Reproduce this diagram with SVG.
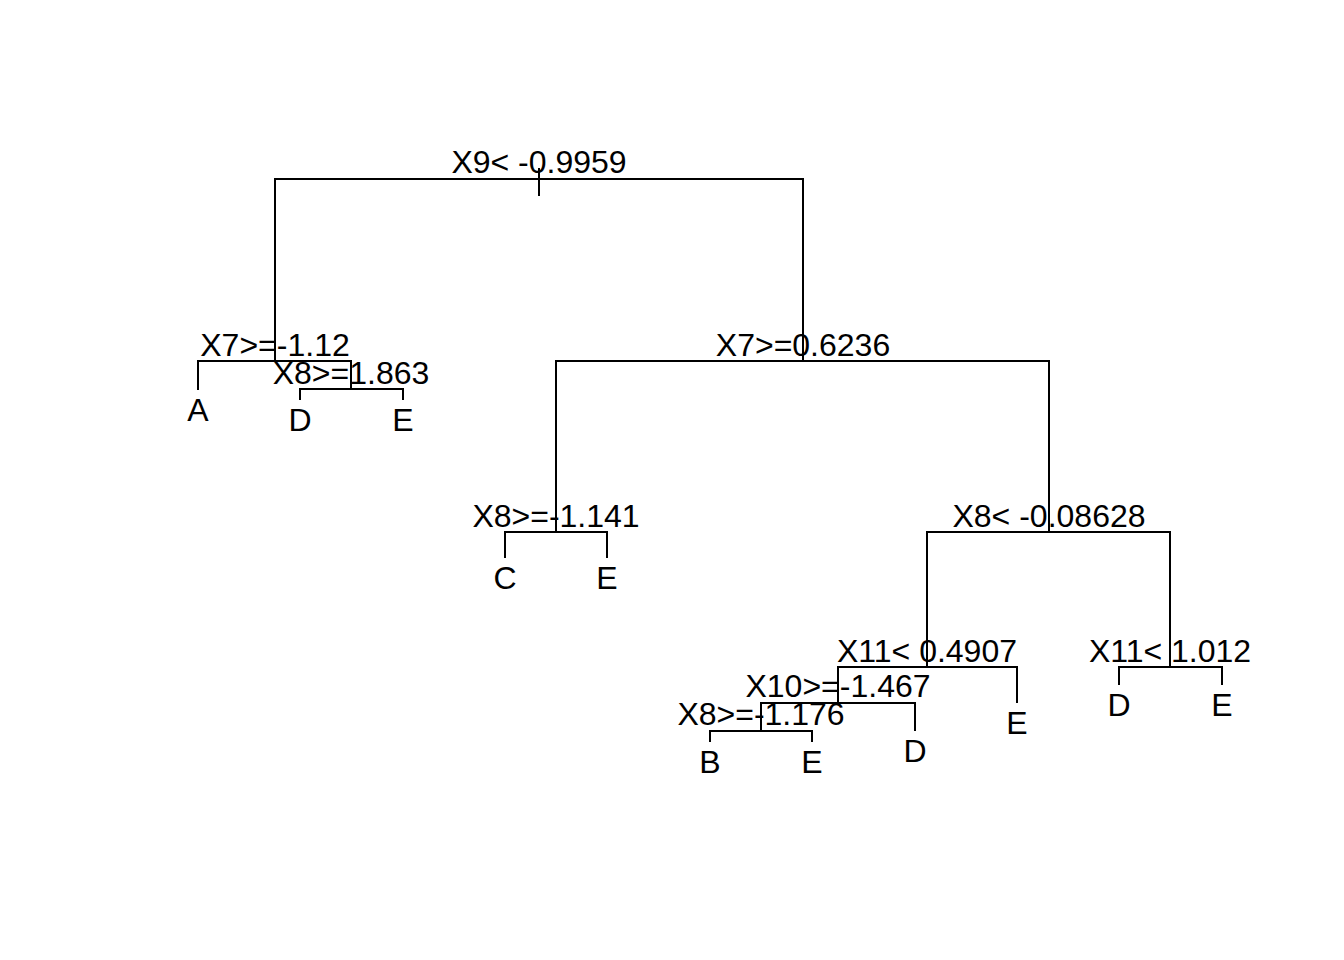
<svg xmlns="http://www.w3.org/2000/svg" width="1344" height="960" viewBox="0 0 1344 960">
<style>
.e{stroke:#000;stroke-width:2;fill:none;stroke-linecap:butt}
text{font-family:"Liberation Sans",Arial,sans-serif;font-size:32px;fill:#000;text-anchor:middle}
</style>
<rect width="1344" height="960" fill="#fff"/>
<g id="connectors" class="e">
<path d="M539,168V196"/>
<path d="M275,361V179H803V361"/>
<path d="M198,390V361H351V389"/>
<path d="M300,400V389H403V400"/>
<path d="M556,532V361H1049V532"/>
<path d="M505,558V532H607V558"/>
<path d="M927,667V532H1170V667"/>
<path d="M838,703V667H1017V703"/>
<path d="M761,731V703H915V731"/>
<path d="M710,742V731H812V742"/>
<path d="M1119,685V667H1222V685"/>
</g>
<g id="n1"><text x="539" y="173">X9&lt; -0.9959</text></g>
<g id="n2"><text x="275" y="356">X7&gt;=-1.12</text></g>
<g id="n3"><text x="351" y="384">X8&gt;=1.863</text></g>
<g id="n4"><text x="803" y="356">X7&gt;=0.6236</text></g>
<g id="n5"><text x="556" y="527">X8&gt;=-1.141</text></g>
<g id="n6"><text x="1049" y="527">X8&lt; -0.08628</text></g>
<g id="n7"><text x="927" y="662">X11&lt; 0.4907</text></g>
<g id="n8"><text x="1170" y="662">X11&lt; 1.012</text></g>
<g id="n9"><text x="838" y="697">X10&gt;=-1.467</text></g>
<g id="n10"><text x="761" y="725">X8&gt;=-1.176</text></g>
<g id="leafA"><text x="198" y="421">A</text></g>
<g id="leafD1"><text x="300" y="431">D</text></g>
<g id="leafE1"><text x="403" y="431">E</text></g>
<g id="leafC"><text x="505" y="589">C</text></g>
<g id="leafE2"><text x="607" y="589">E</text></g>
<g id="leafB"><text x="710" y="773">B</text></g>
<g id="leafE3"><text x="812" y="773">E</text></g>
<g id="leafD2"><text x="915" y="762">D</text></g>
<g id="leafE4"><text x="1017" y="734">E</text></g>
<g id="leafD3"><text x="1119" y="716">D</text></g>
<g id="leafE5"><text x="1222" y="716">E</text></g>
</svg>
